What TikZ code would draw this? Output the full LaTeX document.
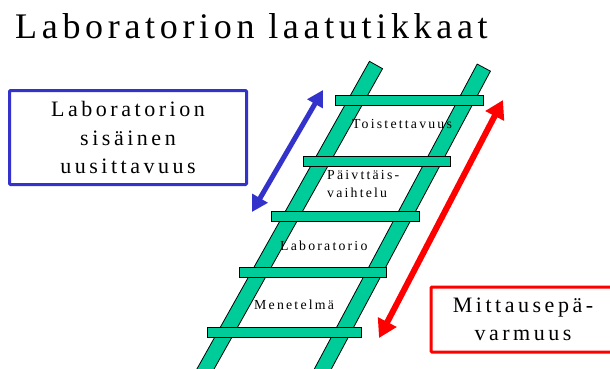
\documentclass[tikz,border=0pt]{standalone}
\usepackage{fontspec}
\setmainfont{Liberation Serif}
\newfontfamily\titlefont[LetterSpace=13]{Liberation Serif}
\newfontfamily\boxfont[LetterSpace=16]{Liberation Serif}
\newfontfamily\rungfont[LetterSpace=16]{Liberation Serif}
\usetikzlibrary{calc,arrows.meta}

\definecolor{laddergreen}{RGB}{0,204,153}
\definecolor{repblue}{RGB}{51,51,204}
\definecolor{uncred}{RGB}{255,0,0}

\tikzset{
    rail/.style={fill=laddergreen, draw=black, line width=0.8pt},
    rung/.style={fill=laddergreen, draw=black, line width=0.8pt},
    runglabel/.style={inner sep=0pt, font=\rungfont\fontsize{13.8}{18}\selectfont},
    bluebox/.style={draw=repblue, line width=3pt, rounded corners=1pt,
        minimum width=237pt, minimum height=94pt, align=center,
        font=\boxfont\fontsize{22}{28.5}\selectfont},
    redbox/.style={draw=uncred, line width=3pt, rounded corners=1pt,
        minimum width=184pt, minimum height=65pt, align=center,
        font=\boxfont\fontsize{22}{27.7}\selectfont},
    bluearrow/.style={draw=repblue, line width=5pt,
        {Triangle[length=16pt,width=17pt]}-{Triangle[length=16pt,width=17pt]}},
    redarrow/.style={draw=uncred, line width=6pt,
        {Triangle[length=18pt,width=20pt]}-{Triangle[length=18pt,width=20pt]}}
}

% one side of the ladder, from top end #1 to bottom end #2
\newcommand{\ladderrail}[2]{%
    \draw[rail] ($(#1)!7.5pt!90:(#2)$) -- ($(#1)!7.5pt!-90:(#2)$)
        -- ($(#2)!7.5pt!90:(#1)$) -- ($(#2)!7.5pt!-90:(#1)$) -- cycle;}

\begin{document}
\begin{tikzpicture}[x=1pt, y=-1pt]
    \useasboundingbox (0, 0) rectangle (610, 368);
    \clip (0, 0) rectangle (610, 368);

    % title
    \node[anchor=base west, inner sep=0pt] (title) at (15, 38)
        {\titlefont\fontsize{36}{40}\selectfont Laboratorion laatutikkaat};

    % ladder
    \coordinate (leftTop) at (376, 65);
    \coordinate (leftBottom) at (193.7, 390);
    \coordinate (rightTop) at (483.8, 67.6);
    \coordinate (rightBottom) at (311.6, 390);
    \ladderrail{leftTop}{leftBottom}
    \ladderrail{rightTop}{rightBottom}

    \draw[rung] (335, 95.7) rectangle (483, 105.7);
    \draw[rung] (303.3, 156.7) rectangle (450.7, 166.7);
    \draw[rung] (271.7, 211.7) rectangle (419, 221.7);
    \draw[rung] (239.3, 267.3) rectangle (386.7, 277.3);
    \draw[rung] (207.7, 327.5) rectangle (361.7, 337.7);

    \node[runglabel, anchor=base] (repeat) at (402, 128.3) {Toistettavuus};
    \node[runglabel, anchor=base west] (daily) at (327, 179.3) {Päivttäis-};
    \node[runglabel, anchor=base west] (dailyB) at (327, 197.3) {vaihtelu};
    \node[runglabel, anchor=base west] (lab) at (280, 250) {Laboratorio};
    \node[runglabel, anchor=base west] (method) at (254, 309) {Menetelmä};

    % boxes
    \node[bluebox] (withinLab) at (128, 137.5)
        {Laboratorion\\sisäinen\\uusittavuus};
    \node[redbox] (uncert) at (523, 319.5) {Mittausepä-\\varmuus};

    % arrows
    \coordinate (blueTop) at (323, 90);
    \coordinate (blueBottom) at (252, 212);
    \coordinate (redTop) at (503, 100);
    \coordinate (redBottom) at (379, 338);
    \draw[bluearrow] (blueBottom) -- (blueTop);
    \draw[redarrow] (redBottom) -- (redTop);
\end{tikzpicture}
\end{document}
